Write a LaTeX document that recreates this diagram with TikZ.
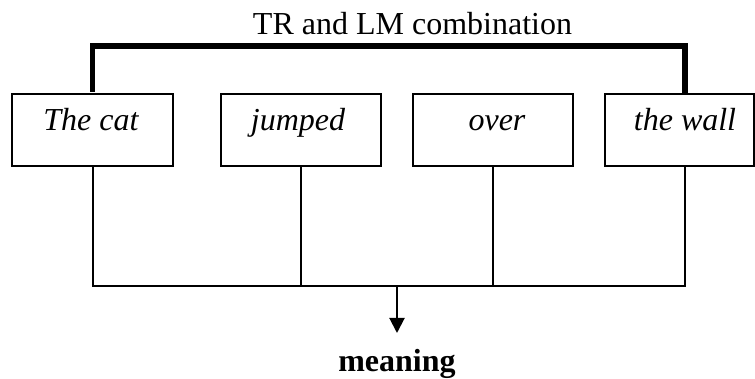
\documentclass[tikz,border=0pt]{standalone}
\usepackage{fontspec}
\setmainfont{Liberation Serif}
\usetikzlibrary{arrows.meta}
\begin{document}
\begin{tikzpicture}[x=1pt,y=-1pt,
  wordbox/.style={draw=black,line width=2pt,minimum height=72pt,inner sep=0pt},
  word/.style={anchor=base,inner sep=0pt,font=\fontsize{32}{38}\selectfont\itshape},
  thin/.style={line width=2pt,line join=miter},
  bracket/.style={line width=5.5pt,line join=miter},
  arrow/.style={line width=2pt,-{Triangle[width=15pt,length=15pt]}}]
\useasboundingbox (0,0) rectangle (755,379);
% boxes
\node[wordbox,minimum width=161pt] (tc) at (92.5,130) {};
\node[wordbox,minimum width=160pt] (jp) at (301,130) {};
\node[wordbox,minimum width=160pt] (ov) at (493,130) {};
\node[wordbox,minimum width=149pt] (tw) at (679,130) {};
% words
\node[word] (tcw) at (91,131) {The cat};
\node[word] (jpw) at (298,131) {jumped};
\node[word] (ovw) at (497,131) {over};
\node[word] (tww) at (685,131) {the wall};
% title and result
\node[anchor=base,inner sep=0pt,font=\fontsize{32}{38}\selectfont] (title) at (412.5,35) {TR and LM combination};
\node[anchor=base,inner sep=0pt,font=\fontsize{32}{38}\selectfont\bfseries] (mean) at (397,371) {meaning};
% connector points
\coordinate (twn) at (685,94);
\coordinate (tws) at (685,166);
\coordinate (arrs) at (397,286);
\coordinate (arre) at (397,333);
% bracket
\draw[bracket] ([yshift=1pt]tc.north) -- (tc.north |- 0,46) -| ([yshift=1pt]twn);
% bottom bus
\draw[thin] (tc.south) -- (tc.south |- arrs) -| (tws);
\draw[thin] (jp.south) -- (jp.south |- arrs);
\draw[thin] (ov.south) -- (ov.south |- arrs);
\draw[arrow] (arrs) -- (arre);
\end{tikzpicture}
\end{document}
